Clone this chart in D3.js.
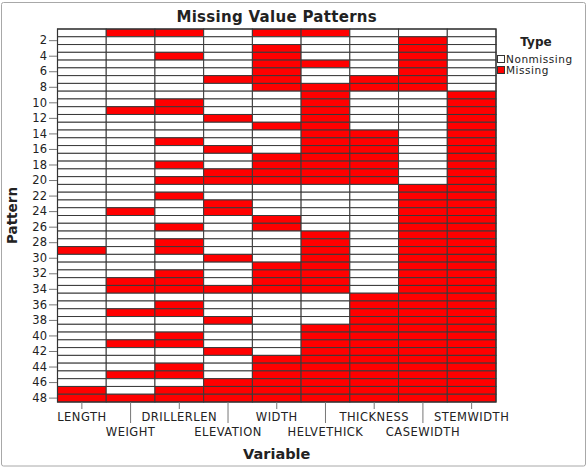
<!DOCTYPE html>
<html>
<head>
<meta charset="utf-8">
<script src="https://cdn.jsdelivr.net/npm/d3@7"></script>
<style>
  html, body { margin: 0; padding: 0; background: #fff; }
  svg { display: block; }
  text { font-family: "DejaVu Sans", sans-serif; fill: #222; }
</style>
</head>
<body>
<script>
// ---- Data ----
const variables = ["LENGTH", "WEIGHT", "DRILLERLEN", "ELEVATION", "WIDTH",
                   "HELVETHICK", "THICKNESS", "CASEWIDTH", "STEMWIDTH"];
const patterns = d3.range(1, 49);
const yTickLabels = d3.range(2, 49, 2);
const legendTypes = ["Nonmissing", "Missing"];
// 1 = Missing, 0 = Nonmissing ; one row per pattern, columns follow `variables`
const missing = [
  [0,1,1,0,1,1,0,0,0],
  [0,0,0,0,0,0,0,1,0],
  [0,0,0,0,1,0,0,1,0],
  [0,0,1,0,1,0,0,1,0],
  [0,0,0,0,1,1,0,1,0],
  [0,0,0,0,1,0,0,1,0],
  [0,0,0,1,1,0,1,1,0],
  [0,0,0,0,1,1,1,1,0],
  [0,0,0,0,0,1,0,0,1],
  [0,0,1,0,0,1,0,0,1],
  [0,1,1,0,0,1,0,0,1],
  [0,0,0,1,0,1,0,0,1],
  [0,0,0,0,1,1,0,0,1],
  [0,0,0,0,0,1,1,0,1],
  [0,0,1,0,0,1,1,0,1],
  [0,0,0,1,0,1,1,0,1],
  [0,0,0,0,1,1,1,0,1],
  [0,0,1,0,1,1,1,0,1],
  [0,0,0,1,1,1,1,0,1],
  [0,0,1,1,1,1,1,0,1],
  [0,0,0,0,0,0,0,1,1],
  [0,0,1,0,0,0,0,1,1],
  [0,0,0,1,0,0,0,1,1],
  [0,1,0,1,0,0,0,1,1],
  [0,0,0,0,1,0,0,1,1],
  [0,0,1,0,1,0,0,1,1],
  [0,0,0,0,0,1,0,1,1],
  [0,0,1,0,0,1,0,1,1],
  [1,0,1,0,0,1,0,1,1],
  [0,0,0,1,0,1,0,1,1],
  [0,0,0,0,1,1,0,1,1],
  [0,0,1,0,1,1,0,1,1],
  [0,1,1,0,1,1,0,1,1],
  [0,1,1,1,1,1,0,1,1],
  [0,0,0,0,0,0,1,1,1],
  [0,0,1,0,0,0,1,1,1],
  [0,1,1,0,0,0,1,1,1],
  [0,0,0,1,0,0,1,1,1],
  [0,0,0,0,0,1,1,1,1],
  [0,0,1,0,0,1,1,1,1],
  [0,1,1,0,0,1,1,1,1],
  [0,0,0,1,0,1,1,1,1],
  [0,0,0,0,1,1,1,1,1],
  [0,0,1,0,1,1,1,1,1],
  [0,1,1,0,1,1,1,1,1],
  [0,0,0,1,1,1,1,1,1],
  [1,0,1,1,1,1,1,1,1],
  [1,1,1,1,1,1,1,1,1]
];

// ---- Layout ----
const W = 587, H = 468;
const plot = { left: 57.5, right: 496, top: 29, bottom: 402 };
const RED = "#ff0000";

const svg = d3.select("body").append("svg")
  .attr("width", W).attr("height", H);

svg.append("rect")
  .attr("x", 1.5).attr("y", 2.5).attr("width", W - 3).attr("height", H - 4.5)
  .attr("rx", 2)
  .attr("fill", "#fff").attr("stroke", "#a8a8a8").attr("stroke-width", 1);

const x = d3.scaleBand().domain(variables).range([plot.left, plot.right]);
const y = d3.scaleBand().domain(patterns).range([plot.top, plot.bottom]);
const color = d3.scaleOrdinal().domain([0, 1]).range(["#ffffff", RED]);

const cells = [];
missing.forEach((row, i) => row.forEach((m, j) =>
  cells.push({ pattern: patterns[i], variable: variables[j], m })));

svg.append("g").selectAll("rect").data(cells).join("rect")
  .attr("x", d => x(d.variable))
  .attr("y", d => y(d.pattern))
  .attr("width", x.bandwidth())
  .attr("height", y.bandwidth())
  .attr("fill", d => color(d.m))
  .attr("stroke", "#3a3a3a")
  .attr("stroke-width", 1);

svg.append("rect")
  .attr("x", plot.left).attr("y", plot.top)
  .attr("width", plot.right - plot.left).attr("height", plot.bottom - plot.top)
  .attr("fill", "none").attr("stroke", "#333").attr("stroke-width", 1.2);

// Y axis
const yAxis = d3.axisLeft(y).tickValues(yTickLabels).tickSize(8).tickPadding(2);
const gy = svg.append("g").attr("transform", `translate(${plot.left - 0.5},0)`).call(yAxis);
gy.select(".domain").remove();
gy.selectAll(".tick line").attr("stroke", "#777");
gy.selectAll(".tick text")
  .style("font-family", "DejaVu Sans, sans-serif")
  .style("font-size", "11.5px").attr("fill", "#333");

// X axis (staggered)
const xAxis = d3.axisBottom(x).tickSize(0).tickFormat("");
const gx = svg.append("g").attr("transform", `translate(0,${plot.bottom})`).call(xAxis);
gx.select(".domain").remove();
gx.selectAll(".tick").each(function(d, i) {
  const g = d3.select(this);
  const long = i % 2 === 1;
  g.append("line").attr("y1", 0).attr("y2", long ? 21 : 7).attr("stroke", "#777");
  g.append("text")
    .attr("y", long ? 33.5 : 18.5)
    .attr("text-anchor", "middle")
    .style("font-family", "DejaVu Sans, sans-serif")
    .style("font-size", "11.5px")
    .style("letter-spacing", "0.5px")
    .attr("fill", "#333")
    .text(d);
});

// Titles
svg.append("text")
  .attr("x", (plot.left + plot.right) / 2).attr("y", 22)
  .attr("text-anchor", "middle")
  .style("font-size", "15px").style("font-weight", "bold").style("letter-spacing", "0.3px")
  .text("Missing Value Patterns");

svg.append("text")
  .attr("x", (plot.left + plot.right) / 2).attr("y", 459)
  .attr("text-anchor", "middle")
  .style("font-size", "14.5px").style("font-weight", "bold")
  .text("Variable");

svg.append("text")
  .attr("transform", `translate(17,${(plot.top + plot.bottom) / 2}) rotate(-90)`)
  .attr("text-anchor", "middle")
  .style("font-size", "13.5px").style("font-weight", "bold")
  .text("Pattern");

// Legend
const lg = svg.append("g").attr("transform", "translate(497,0)");
lg.append("text").attr("x", 39).attr("y", 46)
  .attr("text-anchor", "middle")
  .style("font-size", "12px").style("font-weight", "bold")
  .text("Type");
legendTypes.forEach((t, i) => {
  const yy = 55.5 + i * 11;
  lg.append("rect").attr("x", 0.5).attr("y", yy).attr("width", 7).attr("height", 7)
    .attr("fill", color(i)).attr("stroke", "#333").attr("stroke-width", 1);
  lg.append("text").attr("x", 9).attr("y", yy + 7)
    .style("font-size", "10.5px").style("letter-spacing", "0.55px")
    .attr("fill", "#333")
    .text(t);
});
</script>
</body>
</html>
